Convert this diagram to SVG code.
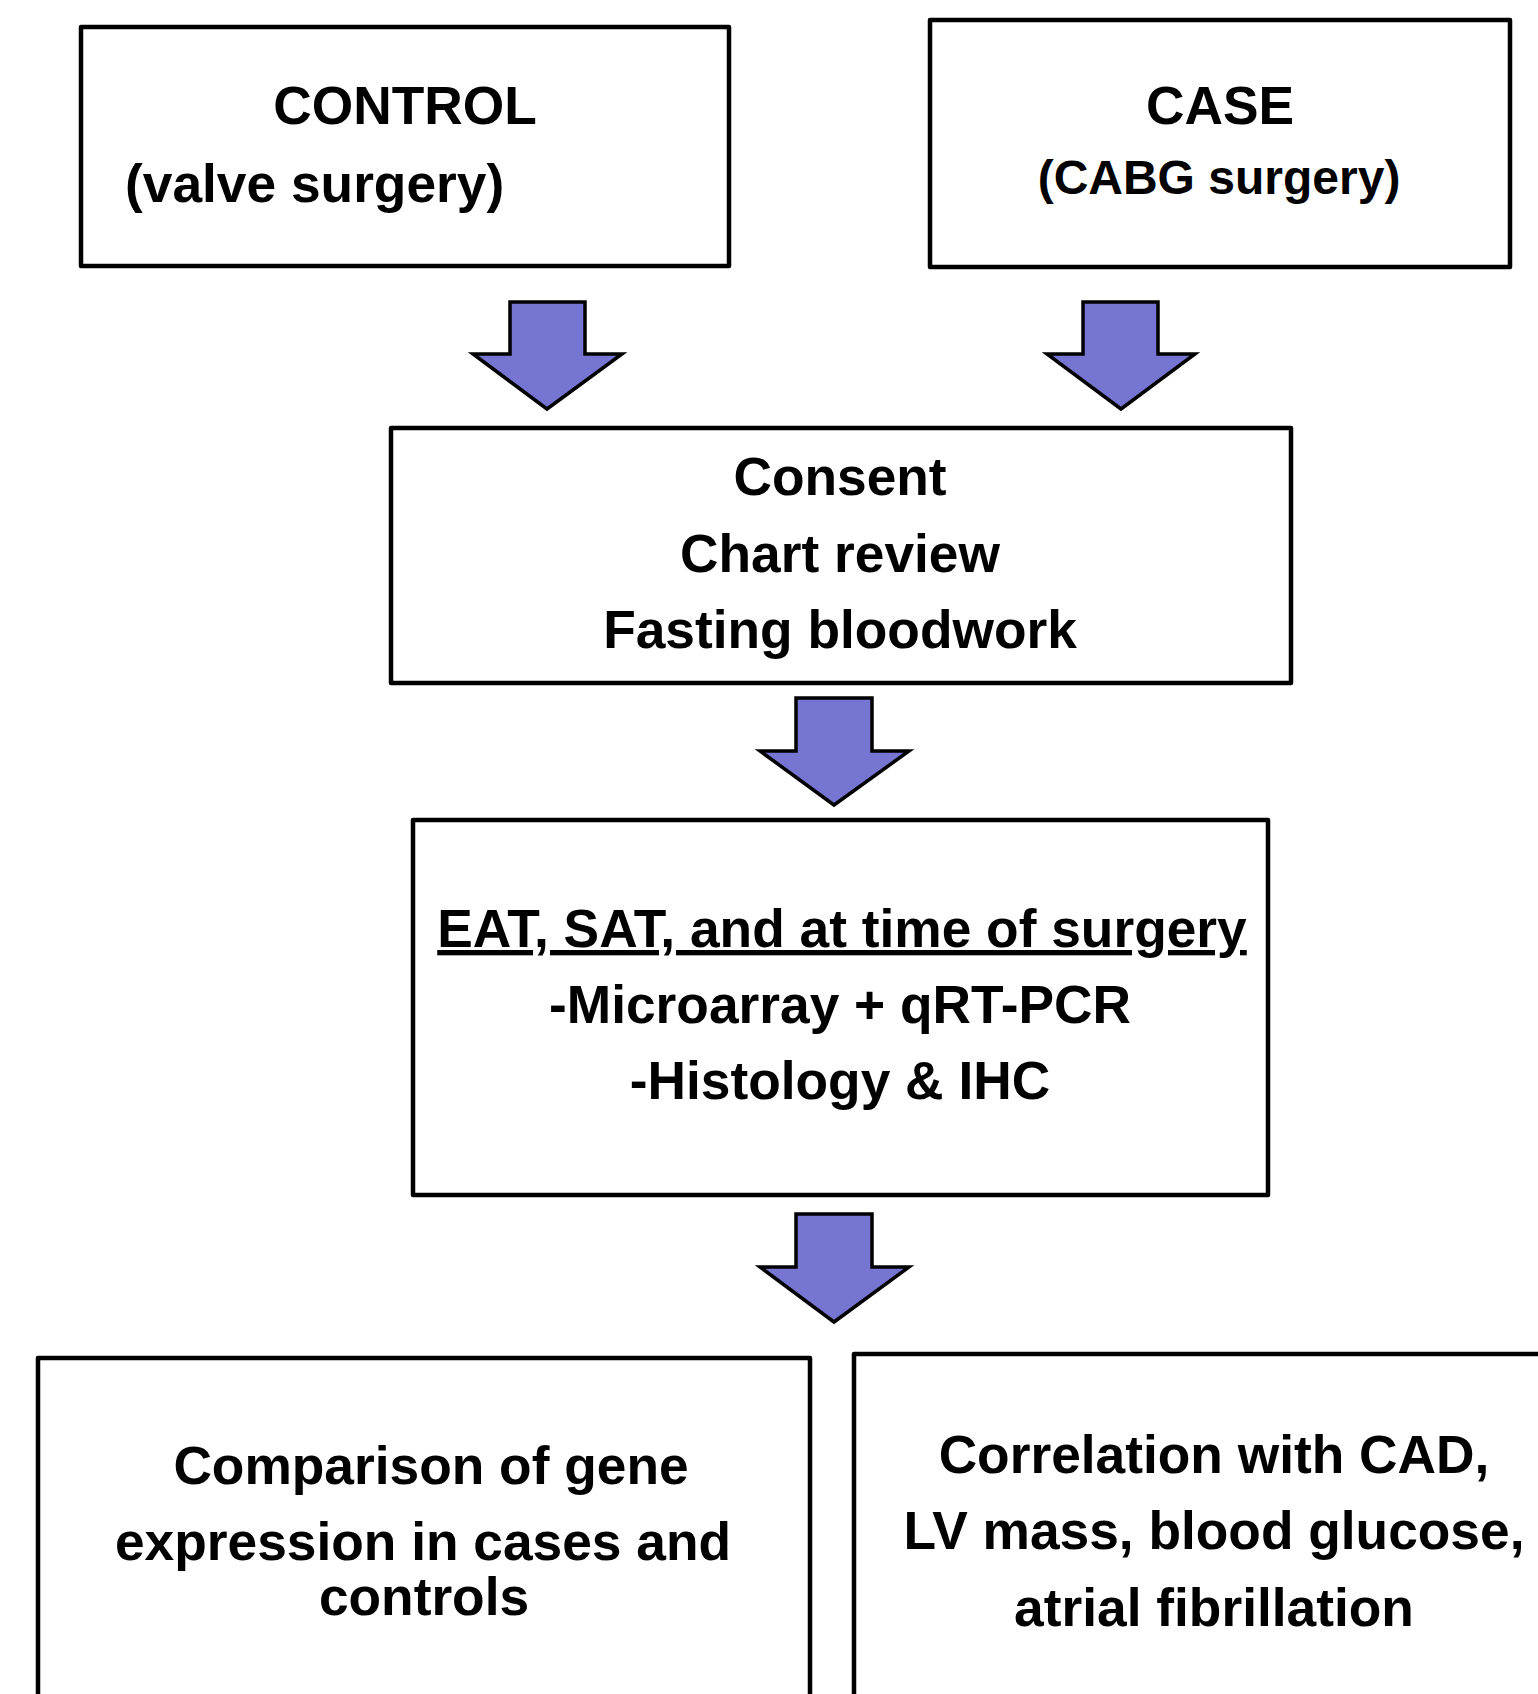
<svg xmlns="http://www.w3.org/2000/svg" width="1538" height="1694" viewBox="0 0 1538 1694">
<style>
.box{fill:#fff;stroke:#000;stroke-width:4.5;stroke-linejoin:round}
.arr{fill:#7676D2;stroke:#000;stroke-width:3.5;stroke-linejoin:miter}
.t{font-family:"Liberation Sans",Arial,sans-serif;font-weight:bold;font-size:53.3px;fill:#000;text-anchor:middle}
</style>
<rect x="0" y="0" width="1538" height="1694" fill="#fff"/>
<g id="connectors">
<path class="arr" d="M510,302 H585 V354 H622 L547,409 L473,354 H510 Z"/>
<path class="arr" d="M1083,302 H1158 V354 H1195 L1121,409 L1047,354 H1083 Z"/>
<path class="arr" d="M796,698 H872 V751 H909 L834,805 L760,751 H796 Z"/>
<path class="arr" d="M796,1214 H872 V1267 H909 L834,1322 L760,1267 H796 Z"/>
</g>
<g id="control">
<rect class="box" x="81" y="27" width="648" height="239"/>
<text class="t" x="405" y="124">CONTROL</text>
<text class="t" x="125" y="202" style="text-anchor:start">(valve surgery)</text>
</g>
<g id="case">
<rect class="box" x="930" y="20" width="580" height="247"/>
<text class="t" x="1220" y="124">CASE</text>
<text class="t" x="1219" y="194" style="font-size:48px">(CABG surgery)</text>
</g>
<g id="consent">
<rect class="box" x="391" y="428" width="900" height="255"/>
<text class="t" x="840" y="495">Consent</text>
<text class="t" x="840" y="572">Chart review</text>
<text class="t" x="840" y="648">Fasting bloodwork</text>
</g>
<g id="eat">
<rect class="box" x="413" y="820" width="855" height="375"/>
<text class="t" x="842" y="947" text-decoration="underline">EAT, SAT, and at time of surgery</text>
<text class="t" x="840" y="1023">-Microarray + qRT-PCR</text>
<text class="t" x="840" y="1099">-Histology &amp; IHC</text>
</g>
<g id="comparison">
<rect class="box" x="38" y="1358" width="772" height="420"/>
<text class="t" x="431" y="1484">Comparison of gene</text>
<text class="t" x="423" y="1560">expression in cases and</text>
<text class="t" x="424" y="1615">controls</text>
</g>
<g id="correlation">
<rect class="box" x="854" y="1354" width="800" height="420"/>
<text class="t" x="1214" y="1473">Correlation with CAD,</text>
<text class="t" x="1214" y="1549">LV mass, blood glucose,</text>
<text class="t" x="1214" y="1626">atrial fibrillation</text>
</g>
</svg>
